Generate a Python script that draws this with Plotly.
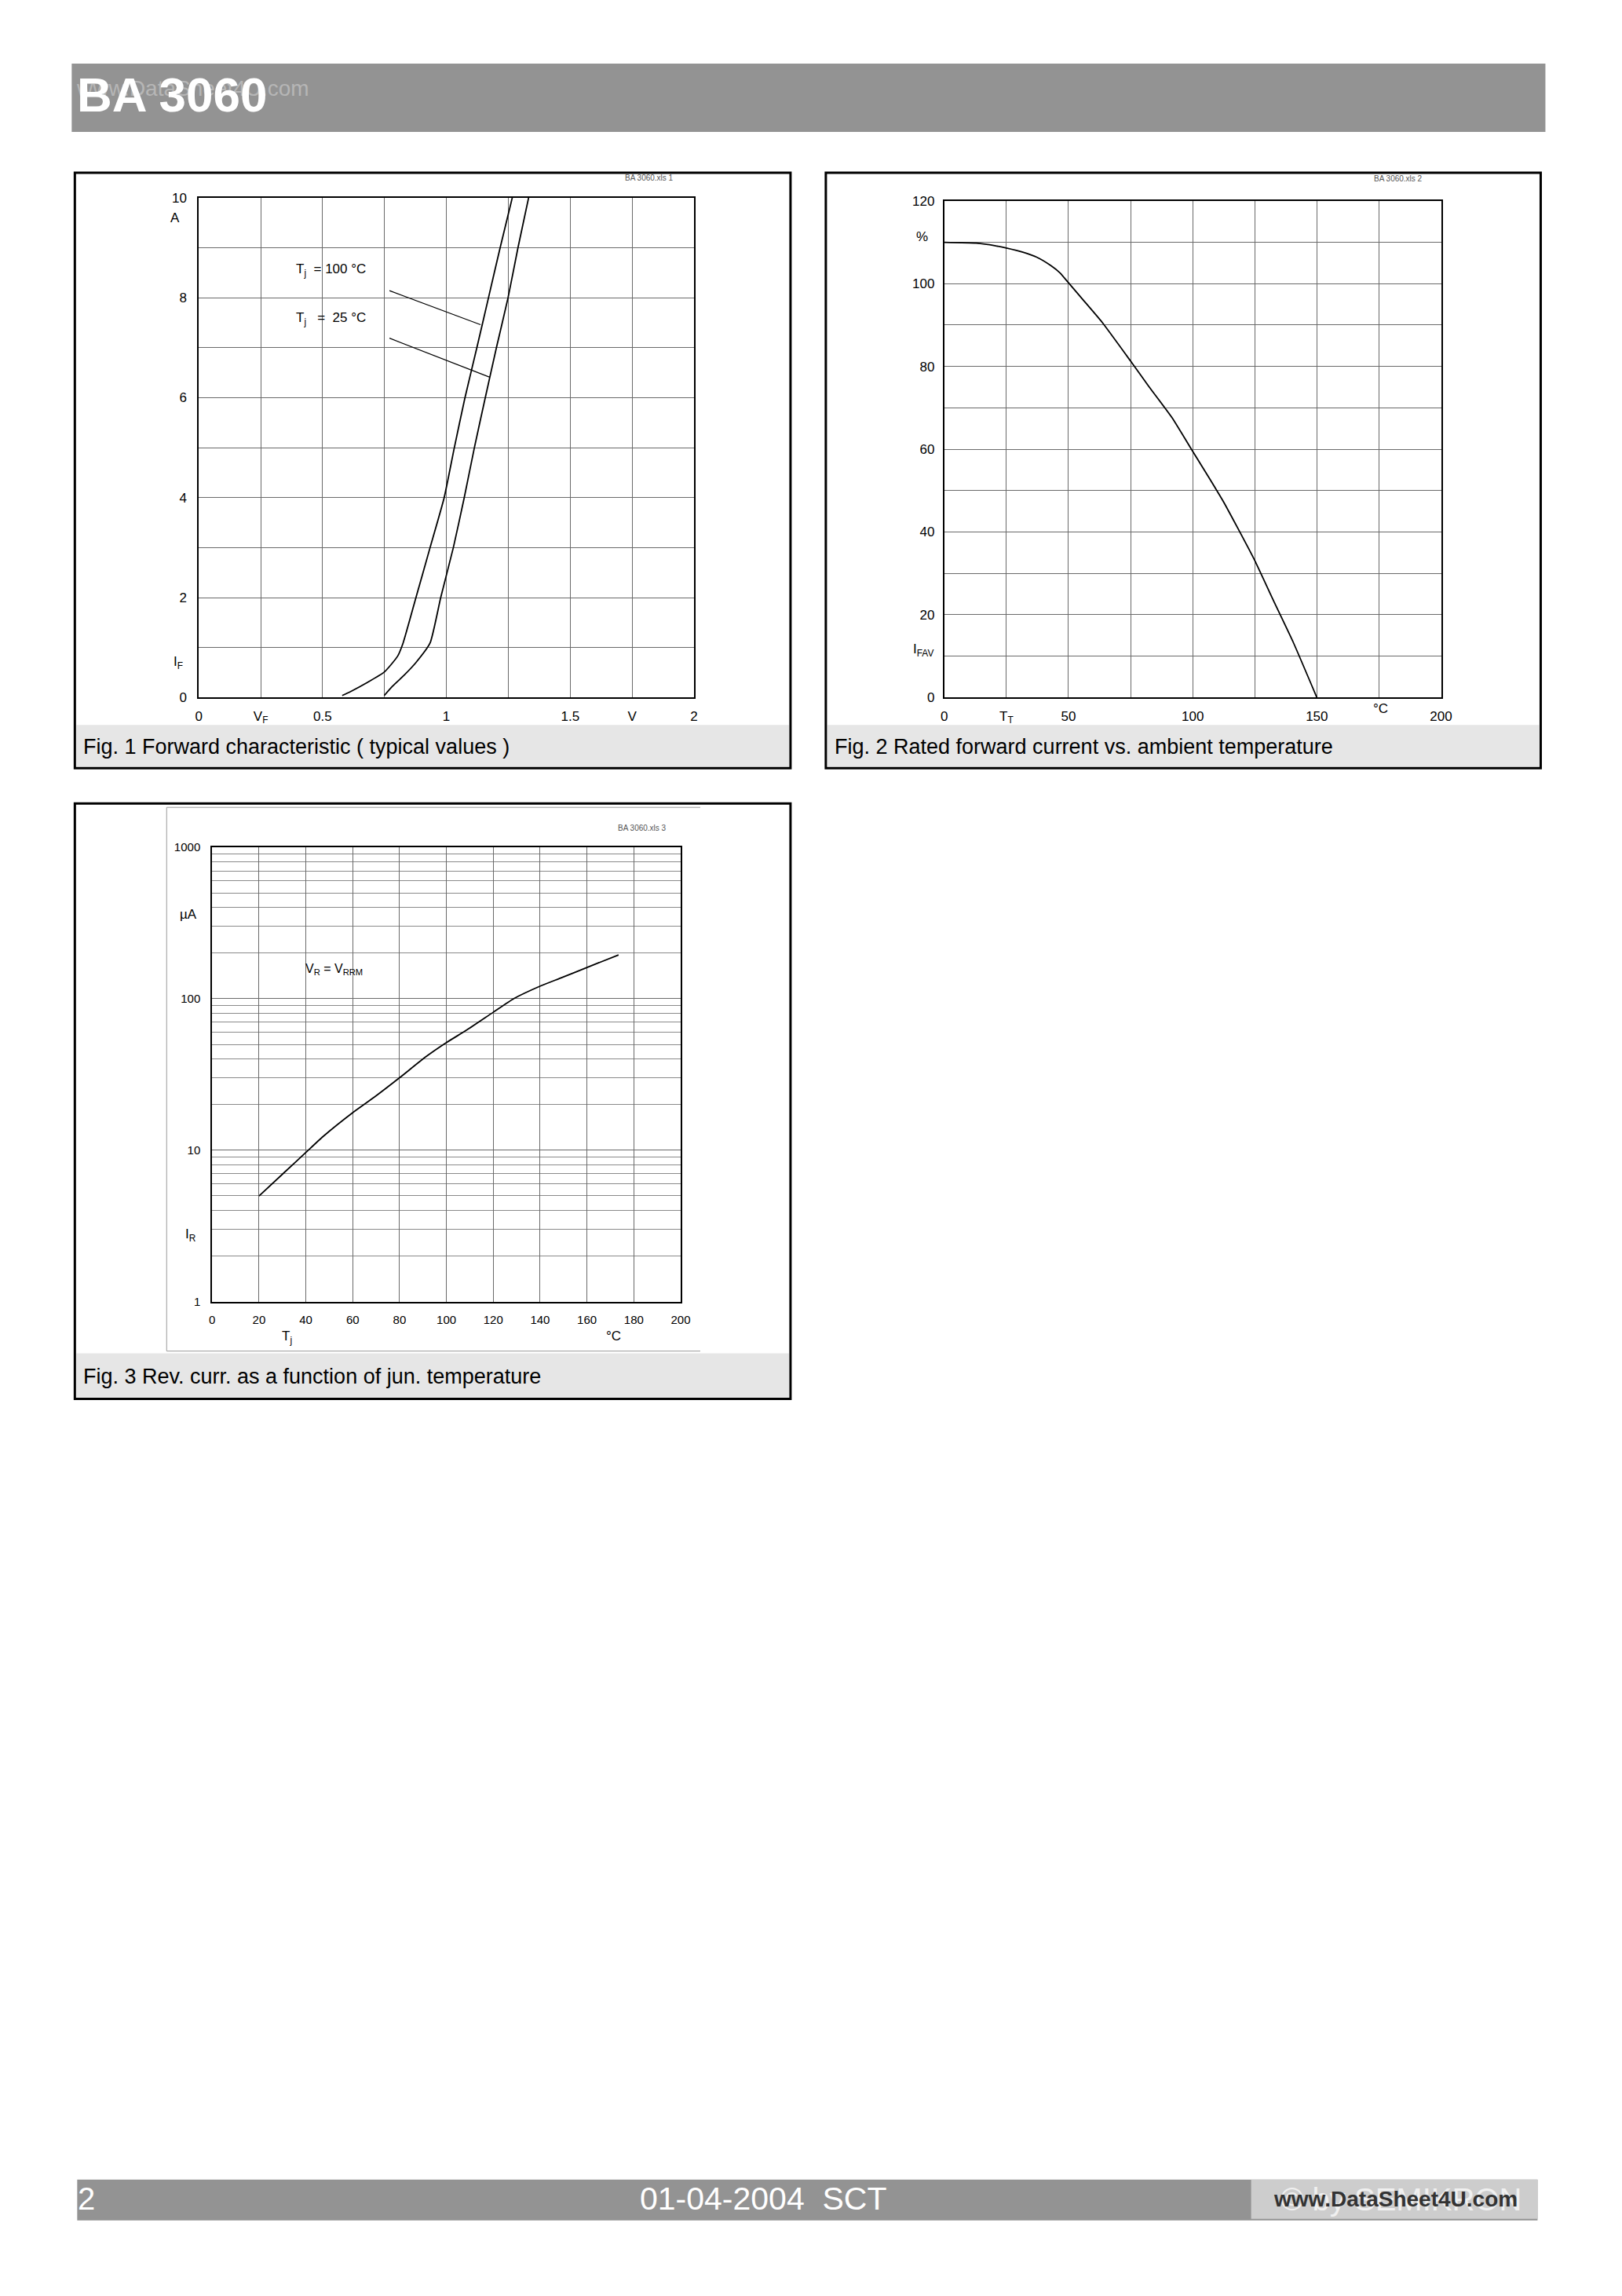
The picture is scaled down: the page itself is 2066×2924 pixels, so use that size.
import math
import plotly.graph_objects as go

PAGE_W, PAGE_H = 2066, 2924
OFF = 8
W, H = PAGE_W - 2 * OFF, PAGE_H - 2 * OFF
# measured placement correction of the page as photographed: seen = A*asked + B
AX, BX = 0.9912, 4.7
AY, BY = 0.9943, 7.0
FONT = "Liberation Sans, Arial, sans-serif"

# ---------------- Data ----------------
# Fig. 1 forward characteristic
vf_100 = [0.579, 0.613, 0.68, 0.749, 0.802, 0.825, 0.877, 0.934, 0.991, 1.032, 1.075, 1.123, 1.170, 1.217, 1.266]
if_100 = [0.04, 0.12, 0.30, 0.51, 0.82, 1.09, 2.0, 3.0, 4.0, 5.0, 6.0, 7.0, 8.0, 9.0, 10.0]
vf_25 = [0.749, 0.783, 0.83, 0.877, 0.934, 0.977, 1.028, 1.072, 1.113, 1.157, 1.202, 1.249, 1.289, 1.332]
if_25 = [0.04, 0.23, 0.45, 0.70, 1.09, 2.0, 3.0, 4.0, 5.0, 6.0, 7.0, 8.0, 9.0, 10.0]
f1_xticks = [0, 0.25, 0.5, 0.75, 1, 1.25, 1.5, 1.75, 2]
f1_xlabels = ["0", "V<sub>F</sub>", "0.5", "", "1", "", "1.5", "V", "2"]
f1_yticks = [0, 1, 2, 3, 4, 5, 6, 7, 8, 9, 10]
f1_ylabels = ["0", "", "2", "", "4", "", "6", "", "8", "", "10"]
lead_100_x = [0.770, 1.138]
lead_100_y = [8.14, 7.46]
lead_25_x = [0.770, 1.175]
lead_25_y = [7.19, 6.41]

# Fig. 2 rated forward current vs ambient temperature
t_amb = [0, 12.8, 20.3, 25, 31.6, 37.2, 42.8, 46.6, 50, 56, 63.5, 75, 82.3, 91.7, 100, 106.8, 112.4, 118, 125, 133.1, 140.6, 150]
i_fav = [110, 109.8, 109.2, 108.6, 107.6, 106.4, 104.4, 102.6, 100.2, 96, 90.7, 81.3, 75.2, 67.6, 59.5, 52.9, 47.3, 41.1, 33.1, 22.7, 13.2, 0]
f2_xticks = [0, 25, 50, 75, 100, 125, 150, 175, 200]
f2_xlabels = ["0", "T<sub>T</sub>", "50", "", "100", "", "150", "", "200"]
f2_yticks = [0, 10, 20, 30, 40, 50, 60, 70, 80, 90, 100, 110, 120]
f2_ylabels = ["0", "", "20", "", "40", "", "60", "", "80", "", "100", "", "120"]

# Fig. 3 reverse current vs junction temperature
t_j = [20, 31.3, 40, 47.3, 60, 69.2, 80, 91.1, 100, 108.9, 120, 128.8, 139.9, 148.7, 160, 173.5]
i_r = [4.98, 7.25, 9.67, 12.3, 17.7, 22.4, 30.1, 41.3, 51.4, 62.5, 81.5, 100.3, 121, 137, 161, 195]
f3_xticks = [0, 20, 40, 60, 80, 100, 120, 140, 160, 180, 200]
f3_xlabels = [str(v) for v in f3_xticks]
f3_yticks = [1, 10, 100, 1000]
f3_ylabels = ["1", "10", "100", "1000"]
f3_minor = [m * d for d in (1, 10, 100) for m in range(2, 10)]

captions = [
    "Fig. 1 Forward characteristic ( typical values )",
    "Fig. 2 Rated forward current vs. ambient temperature",
    "Fig. 3 Rev. curr. as a function of jun. temperature",
]

RANGES = {"x": (0, 2), "y": (0, 10), "x2": (0, 200), "y2": (0, 120), "x3": (0, 200), "y3": (0, 3)}


def px(x):
    x = (x - BX) / AX
    return (x - OFF) / W


def py(y):
    y = (y - BY) / AY
    return 1 - (y - OFF) / H


def dfrac(ax, v, log=False):
    lo, hi = RANGES[ax]
    if log:
        v = math.log10(v)
    return (v - lo) / (hi - lo)


fig = go.Figure()

line_style = dict(color="black", width=1.8, shape="spline", smoothing=0.5)
fig.add_trace(go.Scatter(x=vf_100, y=if_100, mode="lines", line=line_style, xaxis="x", yaxis="y", hoverinfo="skip"))
fig.add_trace(go.Scatter(x=vf_25, y=if_25, mode="lines", line=line_style, xaxis="x", yaxis="y", hoverinfo="skip"))
fig.add_trace(go.Scatter(x=lead_100_x, y=lead_100_y, mode="lines", line=dict(color="black", width=1.3), xaxis="x", yaxis="y", hoverinfo="skip"))
fig.add_trace(go.Scatter(x=lead_25_x, y=lead_25_y, mode="lines", line=dict(color="black", width=1.3), xaxis="x", yaxis="y", hoverinfo="skip"))
fig.add_trace(go.Scatter(x=t_amb, y=i_fav, mode="lines", line=line_style, xaxis="x2", yaxis="y2", hoverinfo="skip"))
fig.add_trace(go.Scatter(x=t_j, y=i_r, mode="lines", line=line_style, xaxis="x3", yaxis="y3", hoverinfo="skip"))

tf17 = dict(family=FONT, size=17, color="black")
tf15 = dict(family=FONT, size=15, color="black")
base = dict(showline=True, linecolor="black", linewidth=2, mirror=True, ticks="",
            showgrid=True, gridcolor="#6a6a6a", gridwidth=1, zeroline=False,
            fixedrange=True, tickmode="array")

shapes = []
annotations = []

# page header / footer
shapes.append(dict(type="rect", xref="paper", yref="paper", x0=px(91), x1=px(1969), y0=py(79), y1=py(166),
                   fillcolor="#939393", line=dict(width=0), layer="below"))
shapes.append(dict(type="rect", xref="paper", yref="paper", x0=px(98), x1=px(1959), y0=py(2776), y1=py(2828),
                   fillcolor="#939393", line=dict(width=0), layer="below"))
shapes.append(dict(type="rect", xref="paper", yref="paper", x0=px(1594), x1=px(1959), y0=py(2776), y1=py(2826),
                   fillcolor="#cdcdcd", line=dict(width=0), layer="below"))

annotations.append(dict(text="www.DataSheet4U.com", xref="paper", yref="paper", x=px(95), y=py(111),
                        xanchor="left", yanchor="middle", showarrow=False,
                        font=dict(family=FONT, size=28, color="#b6b6b6")))
annotations.append(dict(text="<b>BA 3060</b>", xref="paper", yref="paper", x=px(96), y=py(119),
                        xanchor="left", yanchor="middle", showarrow=False,
                        font=dict(family=FONT, size=62, color="white")))
annotations.append(dict(text="2", xref="paper", yref="paper", x=px(97), y=py(2800),
                        xanchor="left", yanchor="middle", showarrow=False,
                        font=dict(family=FONT, size=40, color="white")))
annotations.append(dict(text="01-04-2004  SCT", xref="paper", yref="paper", x=px(973), y=py(2800),
                        xanchor="center", yanchor="middle", showarrow=False,
                        font=dict(family=FONT, size=41, color="white")))
annotations.append(dict(text="© by SEMIKRON", xref="paper", yref="paper", x=px(1785), y=py(2801),
                        xanchor="center", yanchor="middle", showarrow=False,
                        font=dict(family=FONT, size=40, color="#f0f0f0")))
annotations.append(dict(text="<b>www.DataSheet4U.com</b>", xref="paper", yref="paper", x=px(1778), y=py(2801),
                        xanchor="center", yanchor="middle", showarrow=False,
                        font=dict(family=FONT, size=28, color="#333333")))

# panels: border box, caption band, caption text
panels = [(95, 218, 1007, 977, 922), (1052, 218, 1963, 977, 922), (95, 1022, 1007, 1781, 1723)]
for (x0, y0, x1, y1, cy), cap in zip(panels, captions):
    shapes.append(dict(type="rect", xref="paper", yref="paper", x0=px(x0 + 2), x1=px(x1 - 2), y0=py(cy), y1=py(y1 - 2),
                       fillcolor="#e6e6e6", line=dict(width=0), layer="below"))
    shapes.append(dict(type="rect", xref="paper", yref="paper", x0=px(x0), x1=px(x1), y0=py(y0), y1=py(y1),
                       fillcolor="rgba(0,0,0,0)", line=dict(color="black", width=3)))
    annotations.append(dict(text=cap, xref="paper", yref="paper", x=px(x0 + 9), y=py((cy + y1) / 2),
                            xanchor="left", yanchor="middle", showarrow=False,
                            font=dict(family=FONT, size=27, color="black")))

# inner frame of fig 3 (top, left, bottom)
for (a, b, c, d) in [(212, 1027, 892, 1027), (212, 1027, 212, 1720), (212, 1720, 892, 1720)]:
    shapes.append(dict(type="line", xref="paper", yref="paper", x0=px(a), y0=py(b), x1=px(c), y1=py(d),
                       line=dict(color="#9a9a9a", width=1), layer="below"))

small = dict(family=FONT, size=10, color="#555555")
lab = dict(family=FONT, size=17, color="black")
lab16 = dict(family=FONT, size=16, color="black")


def ann(text, ax, ay, x, y, font, xanchor="center", log=False):
    return dict(text=text, xref=ax + " domain", yref=ay + " domain",
                x=dfrac(ax, x), y=dfrac(ay, y, log), xanchor=xanchor, yanchor="middle",
                showarrow=False, font=font)


# Fig. 1 annotations
annotations += [
    ann("BA 3060.xls 1", "x", "y", 1.82, 10.40, small),
    ann("A", "x", "y", -0.097, 9.59, lab),
    ann("I<sub>F</sub>", "x", "y", -0.083, 0.70, lab),
    ann("T<sub>j</sub>  = 100 °C", "x", "y", 0.385, 8.55, lab, xanchor="left"),
    ann("T<sub>j</sub>   =  25 °C", "x", "y", 0.385, 7.58, lab, xanchor="left"),
]
# Fig. 2 annotations
annotations += [
    ann("BA 3060.xls 2", "x2", "y2", 182.9, 125.4, small),
    ann("%", "x2", "y2", -9.0, 111.3, lab),
    ann("I<sub>FAV</sub>", "x2", "y2", -8.5, 11.5, lab),
    ann("°C", "x2", "y2", 175.5, -2.6, lab),
]
# Fig. 3 annotations
annotations += [
    ann("BA 3060.xls 3", "x3", "y3", 183.5, 1336, small, log=True),
    ann("µA", "x3", "y3", -10.3, 359, lab, log=True),
    ann("I<sub>R</sub>", "x3", "y3", -9.0, 2.75, lab, log=True),
    ann("V<sub>R</sub> = V<sub>RRM</sub>", "x3", "y3", 39.0, 157, lab16, xanchor="left", log=True),
    ann("T<sub>j</sub>", "x3", "y3", 32.0, 0.585, lab, log=True),
    ann("°C", "x3", "y3", 171.5, 0.595, lab, log=True),
]

fig.update_layout(
    width=W, height=H, margin=dict(l=0, r=0, t=0, b=0), autosize=False,
    paper_bgcolor="white", plot_bgcolor="white", showlegend=False,
    font=dict(family=FONT, color="black"),
    xaxis=dict(base, domain=[px(253), px(884)], range=list(RANGES["x"]), tickvals=f1_xticks, ticktext=f1_xlabels,
               anchor="y", ticklabelstandoff=7, tickfont=tf17),
    yaxis=dict(base, domain=[py(887), py(250)], range=list(RANGES["y"]), tickvals=f1_yticks, ticktext=f1_ylabels,
               anchor="x", ticklabelstandoff=10, tickfont=tf17),
    xaxis2=dict(base, domain=[px(1203), px(1836)], range=list(RANGES["x2"]), tickvals=f2_xticks, ticktext=f2_xlabels,
                anchor="y2", ticklabelstandoff=7, tickfont=tf17),
    yaxis2=dict(base, domain=[py(887), py(254)], range=list(RANGES["y2"]), tickvals=f2_yticks, ticktext=f2_ylabels,
                anchor="x2", ticklabelstandoff=7, tickfont=tf17),
    xaxis3=dict(base, domain=[px(270), px(867)], range=list(RANGES["x3"]), tickvals=f3_xticks, ticktext=f3_xlabels,
                anchor="y3", ticklabelstandoff=8, tickfont=tf15),
    yaxis3=dict(base, type="log", domain=[py(1657), py(1078)], range=list(RANGES["y3"]), tickvals=f3_yticks,
                ticktext=f3_ylabels, anchor="x3", ticklabelstandoff=10, tickfont=tf15,
                minor=dict(tickmode="array", tickvals=f3_minor, showgrid=True, gridcolor="#8a8a8a",
                           gridwidth=1, ticks="")),
    shapes=shapes, annotations=annotations,
)

fig.write_html("out.html", config={"displayModeBar": False, "staticPlot": True})
